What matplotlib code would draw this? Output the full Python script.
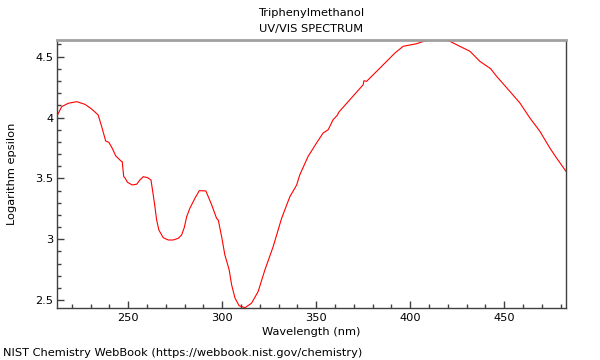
import matplotlib
matplotlib.use("Agg")
import matplotlib.pyplot as plt
from matplotlib.ticker import MultipleLocator, FuncFormatter

title_lines = ["Triphenylmethanol", "UV/VIS SPECTRUM"]
x_label = "Wavelength (nm)"
y_label = "Logarithm epsilon"
footer = "NIST Chemistry WebBook (https://webbook.nist.gov/chemistry)"

wavelength = [211.9, 214.6, 218.1, 222.6, 227.0, 230.5, 234.0, 235.9, 238.0, 239.7,
              241.5, 243.3, 246.1, 246.8, 247.6, 248.2, 249.6, 252.1, 254.5, 256.2,
              258.0, 260.3, 262.1, 263.3, 264.2, 265.1, 266.3, 268.6, 271.3, 273.9,
              276.6, 278.4, 279.8, 281.1, 282.8, 285.5, 287.8, 291.3, 294.4, 297.0,
              297.9, 299.7, 301.4, 303.7, 305.0, 306.8, 309.0, 312.1, 315.6, 319.1,
              322.7, 327.1, 331.6, 336.0, 339.6, 341.3, 345.7, 350.2, 353.7, 356.4,
              357.7, 359.0, 361.2, 362.1, 367.9, 375.0, 375.4, 376.8, 383.9, 391.9,
              396.3, 403.4, 406.5, 409.6, 412.7, 415.8, 418.5, 421.1, 426.4, 431.8,
              437.1, 442.8, 446.0, 453.0, 458.4, 463.7, 469.0, 474.3, 477.9, 482.8]
log_eps = [4.007, 4.089, 4.117, 4.130, 4.108, 4.070, 4.021, 3.924, 3.807, 3.796,
           3.747, 3.686, 3.643, 3.637, 3.514, 3.506, 3.468, 3.446, 3.452, 3.487,
           3.514, 3.506, 3.487, 3.364, 3.268, 3.159, 3.076, 3.013, 2.994, 2.994,
           3.008, 3.035, 3.095, 3.186, 3.255, 3.337, 3.399, 3.397, 3.282, 3.172,
           3.158, 3.021, 2.872, 2.749, 2.626, 2.517, 2.454, 2.438, 2.475, 2.570,
           2.748, 2.939, 3.172, 3.350, 3.446, 3.530, 3.681, 3.791, 3.873, 3.900,
           3.941, 3.982, 4.018, 4.045, 4.146, 4.269, 4.302, 4.297, 4.406, 4.530,
           4.585, 4.606, 4.622, 4.633, 4.638, 4.639, 4.634, 4.626, 4.585, 4.544,
           4.461, 4.401, 4.338, 4.215, 4.119, 3.996, 3.887, 3.750, 3.667, 3.560]

fs = 8.2
fig = plt.figure(figsize=(6, 3.6), dpi=100)
ax = fig.add_axes([0.095, 0.1453, 0.848, 0.7444])
ax.plot(wavelength, log_eps, color="#ff0000", linewidth=0.8)
ax.set_xlim(212.1, 482.8)
ax.set_ylim(2.438, 4.639)

ax.xaxis.set_major_locator(MultipleLocator(50))
ax.xaxis.set_minor_locator(MultipleLocator(10))
ax.yaxis.set_major_locator(MultipleLocator(0.5))
ax.yaxis.set_minor_locator(MultipleLocator(0.1))
ax.yaxis.set_major_formatter(FuncFormatter(lambda v, p: f"{v:g}"))

ax.tick_params(which="both", direction="in", top=False, right=False,
               color="#404040", labelsize=fs, labelcolor="#000000")
ax.tick_params(which="major", length=5, width=1)
ax.tick_params(which="minor", length=3, width=1)
ax.tick_params(axis="y", which="major", pad=2.5)
ax.tick_params(axis="x", which="major", pad=4)

for side in ["left", "bottom", "right"]:
    ax.spines[side].set_color("#404040")
    ax.spines[side].set_linewidth(1)
ax.spines["top"].set_color("#a0a0a0")
ax.spines["top"].set_linewidth(2)

ax.set_xlabel(x_label, fontsize=fs, labelpad=3)
ax.set_ylabel(y_label, fontsize=fs, labelpad=13)

ax_center = 0.095 + 0.848 / 2
fig.text(ax_center, 1 - 13 / 360, title_lines[0], ha="center", va="center", fontsize=fs)
fig.text(ax_center, 1 - 29 / 360, title_lines[1], ha="center", va="center", fontsize=fs)
fig.text(3 / 600, 1 - 353 / 360, footer, ha="left", va="center", fontsize=fs)

fig.savefig("out.png", dpi=100)
